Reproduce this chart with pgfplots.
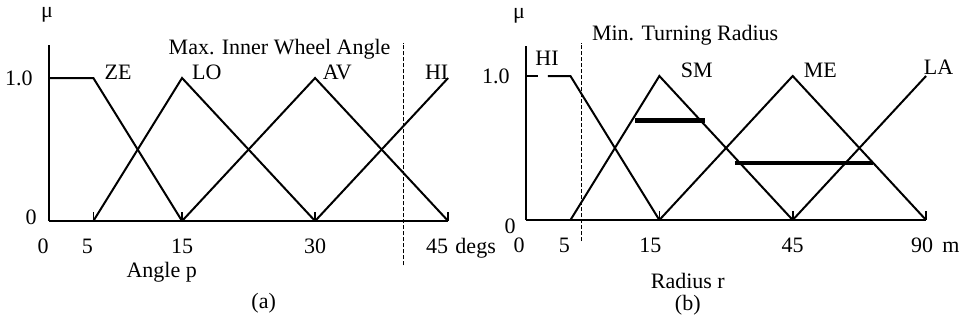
\documentclass[border=0pt]{standalone}
\usepackage{fontspec}
\setmainfont{Liberation Serif}
\usepackage{pgfplots}
\pgfplotsset{compat=1.18}

% membership-function line styles
\tikzset{
  mf/.style={black, line width=1pt, line join=miter},
  cut/.style={black, line width=2.2pt},
  limit/.style={black, line width=0.5pt, dash pattern=on 2pt off 1pt},
  lbl/.style={font=\fontsize{11}{13}\selectfont, inner sep=0pt},
}

\pgfplotsset{
  fuzzy/.style={
    axis lines=left,
    axis line style={-, line width=1pt, black},
    clip=false,
    enlargelimits=false,
    xmin=0, xmax=45, ymin=0,
    xtick={0,5,15,30,45},
    ytick={0,1},
    major tick length=0pt,
    /pgf/number format/assume math mode=true,
    tick label style={font=\fontsize{11}{13}\selectfont, inner sep=0pt},
    xticklabel style={anchor=base, yshift=-16.25pt},
    yticklabel style={anchor=base east, yshift=-3.75pt, xshift=-8pt},
    extra x tick style={major tick length=4.5pt, tick align=inside,
      tick style={line width=0.8pt, black}},
    extra x tick labels={},
  },
}

\begin{document}
\fontsize{11}{13}\selectfont
\begin{tikzpicture}
\path[use as bounding box] (0,0) rectangle (484.5pt,161.5pt);

% (a) steering angle
\begin{axis}[fuzzy,
  x=4.435pt, y=71.5pt, ymax=1.23,
  at={(24.5pt,51pt)}, anchor=south west,
  xticklabels={\hspace*{-6pt}0,\hspace*{-6pt}5,15,30,\hspace*{-11pt}45},
  yticklabels={\raisebox{2pt}{0}\hspace*{-2pt},1.0},
  extra x ticks={5,15,30,45},
]
\addplot[mf] coordinates {(0,1) (5,1) (15,0)};   % ZE
\addplot[mf] coordinates {(5,0) (15,1) (30,0)};  % LO
\addplot[mf] coordinates {(15,0) (30,1) (45,0)}; % AV
\addplot[mf] coordinates {(30,0) (45,1)};        % HI
\addplot[limit] coordinates {(40,-0.31) (40,1.245)};

\node[lbl] at (axis cs:-0.23,1.44) {μ};
\node[lbl] at (axis cs:26,1.20) {Max. Inner Wheel Angle};
\node[lbl] at (axis cs:7.8,1.04) {ZE};
\node[lbl] at (axis cs:17.8,1.04) {LO};
\node[lbl] at (axis cs:32.5,1.04) {AV};
\node[lbl] at (axis cs:43.7,1.04) {HI};
\node[lbl, anchor=base, yshift=-16.25pt] at (axis cs:48.1,0) {degs};
\node[lbl] at (axis cs:12.7,-0.357) {Angle p};
\node[lbl] at (axis cs:24.2,-0.573) {(a)};
\end{axis}

% (b) turning radius
\begin{axis}[fuzzy,
  x=4.445pt, y=72pt, ymax=1.21,
  at={(263pt,51.5pt)}, anchor=south west,
  xticklabels={\hspace*{-7pt}0,\hspace*{-6pt}5,\hspace*{-9pt}15,45,\hspace*{-4pt}90},
  yticklabels={\raisebox{-3pt}{0}\hspace*{-3pt},1.0},
  extra x ticks={15,30,45},
]
\addplot[mf] coordinates {(0,1) (1.35,1)};                % HI
\addplot[mf] coordinates {(2.47,1) (5,1) (15,0)};
\addplot[mf] coordinates {(5,0) (15,1) (30,0)};           % SM
\addplot[mf] coordinates {(15,0) (30,1) (45,0)};          % ME
\addplot[mf] coordinates {(30,0) (45,1)};                 % LA
\addplot[cut] coordinates {(12.26,0.69) (20.1,0.69)};
\addplot[cut] coordinates {(23.5,0.394) (39.0,0.394)};
\addplot[limit] coordinates {(6.2,-0.146) (6.2,1.23)};

\node[lbl] at (axis cs:-0.79,1.42) {μ};
\node[lbl] at (axis cs:17.9,1.28) {Min. Turning Radius};
\node[lbl] at (axis cs:2.36,1.125) {HI};
\node[lbl] at (axis cs:19.2,1.04) {SM};
\node[lbl] at (axis cs:33.1,1.04) {ME};
\node[lbl] at (axis cs:46.4,1.06) {LA};
\node[lbl, anchor=base, yshift=-16.25pt] at (axis cs:47.8,0) {m};
\node[lbl] at (axis cs:18.2,-0.42) {Radius r};
\node[lbl] at (axis cs:18.2,-0.59) {(b)};
\end{axis}
\end{tikzpicture}
\end{document}
